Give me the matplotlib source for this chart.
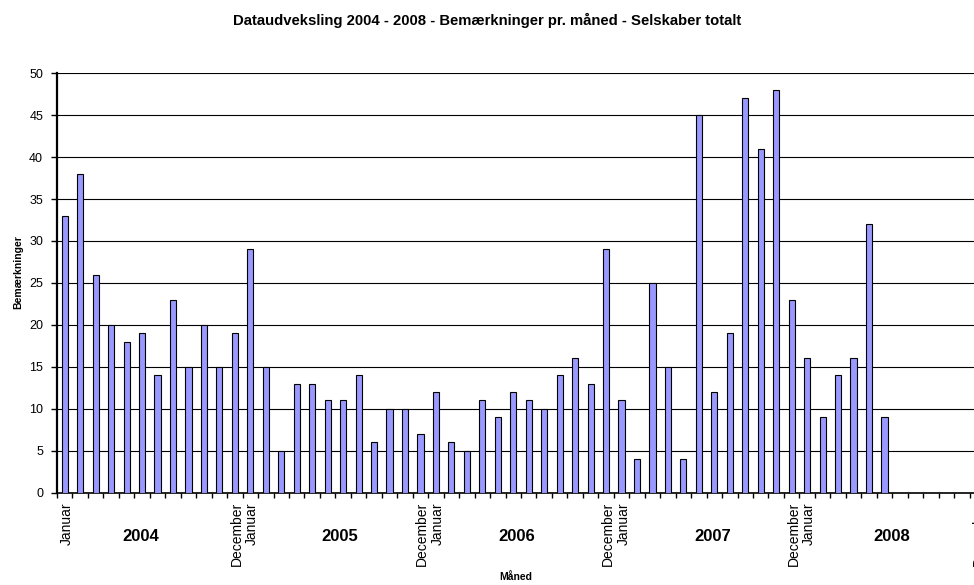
import matplotlib.pyplot as plt
import numpy as np

plt.rcParams['font.family'] = ['Liberation Sans', 'DejaVu Sans']

# Bemærkninger pr. måned, januar 2004 - juni 2008
years = ['2004', '2005', '2006', '2007', '2008']
values_2004 = [33, 38, 26, 20, 18, 19, 14, 23, 15, 20, 15, 19]
values_2005 = [29, 15, 5, 13, 13, 11, 11, 14, 6, 10, 10, 7]
values_2006 = [12, 6, 5, 11, 9, 12, 11, 10, 14, 16, 13, 29]
values_2007 = [11, 4, 25, 15, 4, 45, 12, 19, 47, 41, 48, 23]
values_2008 = [16, 9, 14, 16, 32, 9]
month_labels = ['Januar', 'December']

values = values_2004 + values_2005 + values_2006 + values_2007 + values_2008
n_months = 12 * len(years)
x = np.arange(len(values))

# where Excel put the year labels inside each 12-month block
year_label_offset = [4.9, 5.8, 5.2, 5.9, 5.5]

fig = plt.figure(figsize=(9.74, 5.85), dpi=100)
# axes run a bit past the right edge, like the original export
ax = fig.add_axes([57/974, 92.5/585, 928/974, 419.2/585])

ax.bar(x, values, width=0.4, color='#9999ff', edgecolor='black', linewidth=0.8, zorder=3)

ax.set_xlim(-0.5, n_months - 0.5)
ax.set_ylim(0, 50)
ax.set_yticks(np.arange(0, 51, 5))
ax.yaxis.grid(True, color='black', linewidth=0.8, zorder=0)
ax.set_axisbelow(True)

for side in ['top', 'right']:
    ax.spines[side].set_visible(False)
ax.spines['left'].set_linewidth(1.6)
ax.spines['bottom'].set_linewidth(1.2)

ax.tick_params(axis='y', direction='out', length=4, width=1, pad=6, labelsize=9)

# tick marks between months, labels at first/last month of each year
ax.set_xticks(np.arange(-0.5, n_months, 1))
ax.set_xticklabels([])
ax.tick_params(axis='x', which='major', direction='out', length=3.5, width=1)
label_pos = []
label_txt = []
for i in range(len(years)):
    label_pos += [12 * i + 0.12, 12 * i + 11.12]
    label_txt += month_labels
ax.set_xticks(label_pos, minor=True)
ax.set_xticklabels(label_txt, minor=True, rotation=90, fontsize=10)
ax.tick_params(axis='x', which='minor', length=0, pad=7)

for i, yr in enumerate(years):
    ax.text(12 * i + year_label_offset[i], -0.106, yr, transform=ax.get_xaxis_transform(),
            ha='center', va='center', fontsize=12, fontweight='bold')

fig.text(0.5, 1 - 20/585, 'Dataudveksling 2004 - 2008 - Bemærkninger pr. måned - Selskaber totalt',
         ha='center', va='center', fontsize=10.7, fontweight='bold')
fig.text(516/974, 1 - 577/585, 'Måned', ha='center', va='center', fontsize=7.5, fontweight='bold')
fig.text(18/974, 1 - 272/585, 'Bemærkninger', ha='center', va='center', rotation=90,
         fontsize=7.5, fontweight='bold')

fig.savefig('out.png', dpi=100)
